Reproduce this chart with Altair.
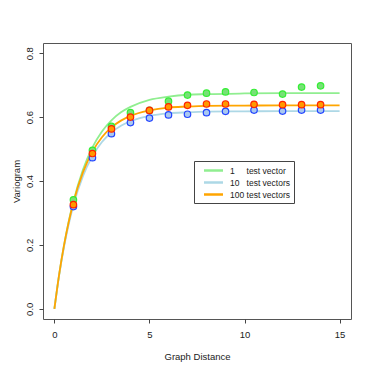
import altair as alt
import pandas as pd

# ---- data ----
pt_x = [1, 2, 3, 4, 5, 6, 7, 8, 9, 10.5, 12, 13, 14]
pt_green = [0.341, 0.496, 0.571, 0.614, 0.621, 0.650, 0.669, 0.675, 0.679, 0.677, 0.672, 0.694, 0.698]
pt_blue = [0.320, 0.473, 0.548, 0.583, 0.597, 0.607, 0.609, 0.614, 0.618, 0.622, 0.619, 0.622, 0.622]
pt_orange = [0.326, 0.486, 0.563, 0.600, 0.621, 0.632, 0.637, 0.641, 0.641, 0.640, 0.639, 0.639, 0.639]

cv_x = [0, 0.25, 0.5, 0.75, 1, 1.5, 2, 2.5, 3, 3.5, 4, 5, 6, 7, 8, 10, 12, 15]
cv_green = [0, 0.107, 0.197, 0.273, 0.336, 0.435, 0.505, 0.555, 0.590, 0.615, 0.632, 0.654, 0.664, 0.670, 0.672, 0.674, 0.675, 0.675]
cv_blue = [0, 0.105, 0.192, 0.264, 0.324, 0.415, 0.478, 0.522, 0.552, 0.573, 0.587, 0.604, 0.612, 0.615, 0.617, 0.618, 0.619, 0.619]
cv_orange = [0, 0.108, 0.197, 0.271, 0.333, 0.427, 0.492, 0.537, 0.568, 0.589, 0.604, 0.621, 0.630, 0.633, 0.635, 0.636, 0.637, 0.637]

NB = "\u00a0"
series = ["1" + NB * 5 + "test vector", "10" + NB * 3 + "test vectors", "100 test vectors"]
line_colors = ["#90EE90", "#ADD8E6", "#FFA500"]
pt_fill = ["#77E077", "#A9C8F0", "#FF9900"]
pt_stroke = ["#33EE33", "#2244FF", "#FF2200"]

curves = []
for s, ys in zip(series, [cv_green, cv_blue, cv_orange]):
    for x, y in zip(cv_x, ys):
        curves.append({"x": x, "y": y, "s": s})
curves = pd.DataFrame(curves)

pts = []
for s, ys in zip(series, [pt_green, pt_blue, pt_orange]):
    for x, y in zip(pt_x, ys):
        pts.append({"x": x, "y": y, "s": s})
pts = pd.DataFrame(pts)

xs = alt.Scale(domain=[-0.6, 15.6], nice=False, zero=False)
ys = alt.Scale(domain=[-0.032, 0.832], nice=False, zero=False)

xax = alt.Axis(values=[0, 5, 10, 15], title="Graph Distance", grid=False, domain=False,
               tickSize=4, labelPadding=6, titlePadding=13, format="d")
yax = alt.Axis(values=[0, 0.2, 0.4, 0.6, 0.8], title="Variogram", grid=False, domain=False,
               tickSize=4, labelPadding=5, titlePadding=3, format=".1f",
               labelAngle=-90, labelAlign="center", labelBaseline="bottom")

lines = alt.Chart(curves).mark_line(strokeWidth=1.8, interpolate="monotone").encode(
    x=alt.X("x:Q", scale=xs, axis=xax),
    y=alt.Y("y:Q", scale=ys, axis=yax),
    color=alt.Color("s:N", scale=alt.Scale(domain=series, range=line_colors),
                    legend=alt.Legend(title=None, orient="none", legendX=151, legendY=118,
                                      symbolType="M0.1,0H3.9", symbolSize=100, symbolStrokeWidth=2.5,
                                      labelFontSize=8.5, labelColor="#222", rowPadding=0,
                                      padding=3, strokeColor="#444", labelOffset=20)),
    order=alt.Order("s:N"),
)

points = alt.Chart(pts).mark_point(filled=False, size=42, strokeWidth=1.2, opacity=1).encode(
    x="x:Q",
    y="y:Q",
    fill=alt.Fill("s:N", scale=alt.Scale(domain=series, range=pt_fill), legend=None),
    stroke=alt.Stroke("s:N", scale=alt.Scale(domain=series, range=pt_stroke), legend=None),
)

chart = alt.layer(lines, points).properties(
    width=308, height=276,
    autosize=alt.AutoSizeParams(type="none"),
    padding={"left": 35, "top": 35, "right": 7, "bottom": 46},
).configure_view(stroke="#555", strokeWidth=1).configure_axis(
    labelFont="Liberation Sans", titleFont="Liberation Sans", labelFontSize=9.5, titleFontSize=9.5,
    labelColor="#222", titleColor="#222", tickColor="#444", titleFontWeight="normal",
).configure_legend(labelFont="Liberation Sans")

chart.save("out.html", embed_options={"renderer": "svg", "actions": False})
